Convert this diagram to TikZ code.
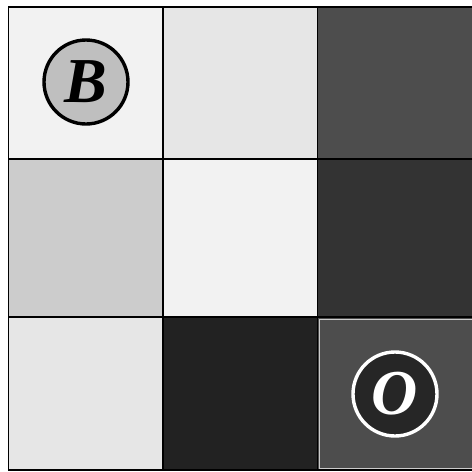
\documentclass[tikz,border=0pt]{standalone}
\usepackage{fontspec}
\setmainfont{Liberation Serif}
\definecolor{cA}{HTML}{F2F2F2}
\definecolor{cB}{HTML}{E6E6E6}
\definecolor{cC}{HTML}{4D4D4D}
\definecolor{cD}{HTML}{CCCCCC}
\definecolor{cE}{HTML}{333333}
\definecolor{cF}{HTML}{222222}
\definecolor{cG}{HTML}{BFBFBF}
\definecolor{cH}{HTML}{262626}
\tikzset{
  cell/.style={draw=black, line width=1.6pt},
  agent/.style={circle, minimum size=84pt, inner sep=0pt, line width=3.4pt,
    font=\fontsize{64}{64}\selectfont\bfseries\itshape}
}
\begin{document}
\begin{tikzpicture}[x=1pt,y=-1pt]
\useasboundingbox (0,0) rectangle (472,472);
\fill[white] (0,0) rectangle (472,472);
% row 1
\filldraw[cell, fill=cA] (8.5,7) rectangle (163,159);
\filldraw[cell, fill=cB] (163,7) rectangle (317.5,159);
\filldraw[cell, fill=cC] (317.5,7) rectangle (474,159);
% row 2
\filldraw[cell, fill=cD] (8.5,159) rectangle (163,317);
\filldraw[cell, fill=cA] (163,159) rectangle (317.5,317);
\filldraw[cell, fill=cE] (317.5,159) rectangle (474,317);
% row 3
\filldraw[cell, fill=cB] (8.5,317) rectangle (163,470);
\filldraw[cell, fill=cF] (163,317) rectangle (317.5,470);
\filldraw[cell, fill=cC] (317.5,317) rectangle (474,470);
\draw[line width=1pt, draw=cD] (319.5,319) rectangle (476,468.5);
% agents
\node[agent, draw=black, fill=cG, text=black] (b) at (86,82) {B};
\node[agent, draw=white, fill=cH, text=white] (o) at (395,394) {O};
\end{tikzpicture}
\end{document}
